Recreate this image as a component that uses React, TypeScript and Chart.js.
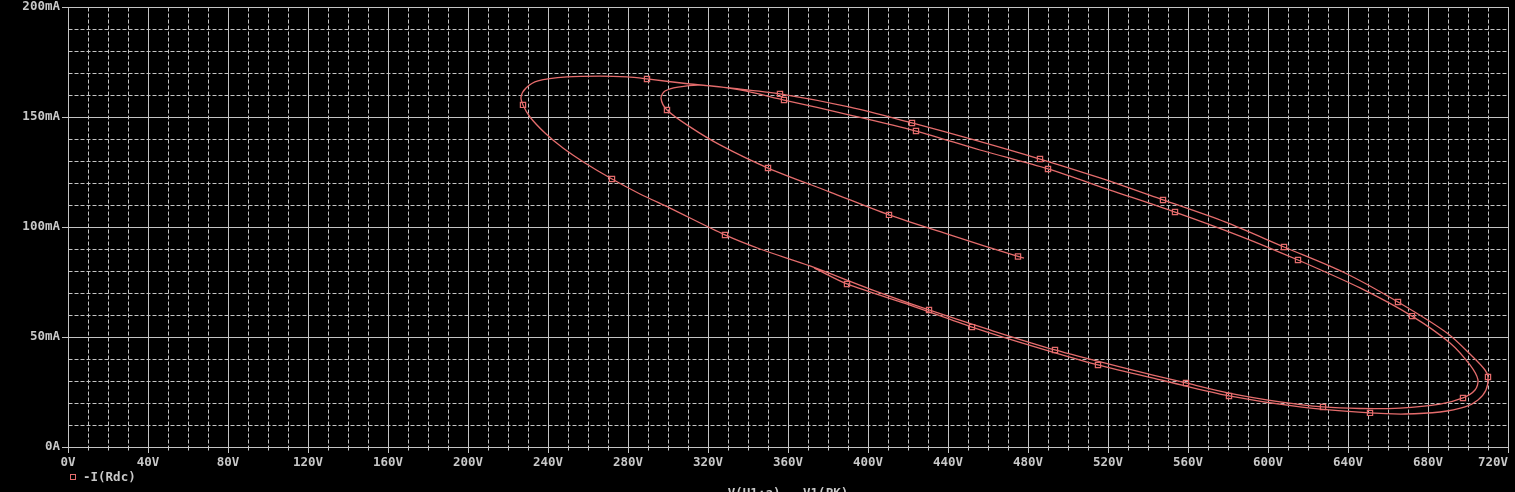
import React, { useEffect, useRef } from 'react';
import { Chart, registerables } from 'chart.js';

Chart.register(...registerables);

// Trace of -I(Rdc) (mA) against V(U1:a) - V1(PK) (V)
const traceV = [478, 475, 441, 410.5, 381, 350, 326, 311, 299.5, 296.5, 298.5, 305, 316, 336, 358, 391, 424, 456, 490, 521, 553.5, 586, 615, 646, 672, 691, 701, 705, 703.5, 697.5, 686, 666, 646, 627.5, 606, 580.5, 559, 526, 493.5, 461, 430.5, 401, 371, 346, 328.5, 301, 286, 272, 258.5, 247.5, 238.5, 231, 227.5, 226.5, 229, 235, 249.5, 266, 279.5, 289.5, 311, 331, 356, 391, 422, 453.5, 486, 516, 547.5, 578.5, 608, 638.5, 665, 689.5, 702.5, 708.5, 710, 709, 705, 698.5, 686, 668.5, 651, 616, 580.5, 548.5, 515, 483.5, 452, 421, 389.5, 373];
const traceI = [85.9, 86.6, 96.4, 105.5, 115.9, 126.8, 137.3, 145.5, 153.2, 158.6, 161.8, 163.6, 164.5, 162.3, 157.7, 150.9, 143.6, 135, 126.4, 116.8, 106.8, 95.9, 85, 72.3, 59.5, 47.3, 37.3, 30.5, 25.9, 22.3, 19.5, 17.7, 17.5, 18.2, 20.5, 24.5, 29.1, 36.4, 44.1, 53.2, 62.3, 71.8, 82.3, 90, 96.4, 108.6, 115, 121.8, 129.1, 135.9, 142.7, 150, 155.5, 159.1, 163.2, 166.4, 168.2, 168.6, 168.2, 167.3, 165, 163.2, 160.5, 154.5, 147.3, 139.5, 130.9, 122.3, 112.3, 102.3, 90.9, 79.1, 65.9, 51.8, 40.9, 35, 31.8, 25.9, 21.4, 18.2, 15.9, 15, 15.5, 18.2, 23.2, 30, 37.3, 45.5, 54.5, 64.5, 74.1, 81.4];

// Square sample markers on the trace
const markerV = [475, 410.5, 350, 299.5, 358, 424, 490, 553.5, 615, 672, 697.5, 627.5, 559, 493.5, 430.5, 328.5, 272, 227.5, 289.5, 356, 422, 486, 547.5, 608, 665, 710, 651, 580.5, 515, 452, 389.5];
const markerI = [86.6, 105.5, 126.8, 153.2, 157.7, 143.6, 126.4, 106.8, 85, 59.5, 22.3, 18.2, 29.1, 44.1, 62.3, 96.4, 121.8, 155.5, 167.3, 160.5, 147.3, 130.9, 112.3, 90.9, 65.9, 31.8, 15.5, 23.2, 37.3, 54.5, 74.1];

const xMajorStep = 40;
const xMinorStep = 10;
const yMajorStep = 50;
const yMinorStep = 10;
const xMax = 720;
const yMax = 200;

const seriesLabel = '-I(Rdc)';
const xTitle = 'V(U1:a) - V1(PK)';

const TRACE = '#e46c6c';
const GRID = '#c4c4c4';
const TEXT = '#c8c8c8';
const FONT = 'DejaVu Sans Mono';

const gridPlugin = {
  id: 'psGrid',
  beforeDatasetsDraw(chart: any) {
    const { ctx, chartArea: a, scales } = chart;
    const x = scales.x;
    const y = scales.y;
    const L = Math.round(a.left) + 0.5;
    const R = Math.round(a.right) + 0.5;
    const T = Math.round(a.top) + 0.5;
    const B = Math.round(a.bottom) + 0.5;
    ctx.save();
    ctx.lineWidth = 1;
    ctx.strokeStyle = GRID;
    // minor dashed
    ctx.setLineDash([4, 2]);
    ctx.beginPath();
    for (let v = xMinorStep; v < xMax; v += xMinorStep) {
      if (v % xMajorStep === 0) continue;
      const px = Math.round(x.getPixelForValue(v)) + 0.5;
      ctx.moveTo(px, T);
      ctx.lineTo(px, B);
    }
    for (let v = yMinorStep; v < yMax; v += yMinorStep) {
      if (v % yMajorStep === 0) continue;
      const py = Math.round(y.getPixelForValue(v)) + 0.5;
      ctx.moveTo(L, py);
      ctx.lineTo(R, py);
    }
    ctx.stroke();
    // major solid
    ctx.setLineDash([]);
    ctx.beginPath();
    for (let v = xMajorStep; v < xMax; v += xMajorStep) {
      const px = Math.round(x.getPixelForValue(v)) + 0.5;
      ctx.moveTo(px, T);
      ctx.lineTo(px, B);
    }
    for (let v = yMajorStep; v < yMax; v += yMajorStep) {
      const py = Math.round(y.getPixelForValue(v)) + 0.5;
      ctx.moveTo(L, py);
      ctx.lineTo(R, py);
    }
    ctx.stroke();
    // border
    ctx.strokeRect(L, T, R - L, B - T);
    // minor ticks under x axis
    ctx.beginPath();
    for (let v = xMinorStep; v < xMax; v += xMinorStep) {
      if (v % xMajorStep === 0) continue;
      const px = Math.round(x.getPixelForValue(v)) + 0.5;
      ctx.moveTo(px, B);
      ctx.lineTo(px, B + 3);
    }
    ctx.stroke();
    ctx.restore();
  },
  afterDraw(chart: any) {
    const { ctx, chartArea: a } = chart;
    ctx.save();
    // legend
    ctx.strokeStyle = TRACE;
    ctx.lineWidth = 1;
    ctx.strokeRect(70.5, 474.5, 5, 5);
    ctx.fillStyle = TEXT;
    ctx.font = `bold 12.5px "${FONT}"`;
    ctx.textBaseline = 'middle';
    ctx.textAlign = 'left';
    ctx.fillText(seriesLabel, 83, 477.5);
    // x-axis title (partly cut off at the bottom)
    ctx.textAlign = 'center';
    ctx.textBaseline = 'top';
    ctx.fillText(xTitle, (a.left + a.right) / 2, 487);
    ctx.restore();
  },
};

export default function App() {
  const ref = useRef<HTMLCanvasElement | null>(null);

  useEffect(() => {
    const canvas = ref.current;
    if (!canvas) return;
    const trace = traceV.map((v, i) => ({ x: v, y: traceI[i] }));
    const marks = markerV.map((v, i) => ({ x: v, y: markerI[i] }));
    const tickFont = { family: FONT, size: 12.5, weight: 'bold' as const };

    const chart = new Chart(canvas, {
      type: 'scatter',
      data: {
        datasets: [
          {
            label: seriesLabel,
            data: trace,
            showLine: true,
            borderColor: TRACE,
            borderWidth: 1.3,
            pointRadius: 0,
            tension: 0.3,
            fill: false,
          },
          {
            label: seriesLabel + ' markers',
            data: marks,
            showLine: false,
            pointStyle: 'rect',
            pointRadius: 3.7,
            borderColor: TRACE,
            backgroundColor: 'rgba(0,0,0,0)',
            borderWidth: 1.2,
          },
        ],
      },
      options: {
        responsive: false,
        animation: false,
        devicePixelRatio: 1,
        layout: { padding: { left: 0, top: 7, right: 7, bottom: 0 } },
        plugins: { legend: { display: false }, tooltip: { enabled: false } },
        scales: {
          x: {
            type: 'linear',
            min: 0,
            max: xMax,
            afterFit(scale: any) {
              scale.height = 45;
              scale.paddingLeft = 0;
              scale.paddingRight = 0;
            },
            border: { display: false },
            grid: { drawOnChartArea: false, drawTicks: true, tickLength: 6, tickColor: GRID, tickWidth: 1 },
            ticks: {
              stepSize: xMajorStep,
              autoSkip: false,
              maxRotation: 0,
              padding: 2,
              color: TEXT,
              font: tickFont,
              // the last label sits inside the right edge (padded with spaces)
              callback: (v: any) => (v === xMax ? `${v}V    ` : `${v}V`),
            },
          },
          y: {
            type: 'linear',
            min: 0,
            max: yMax,
            afterFit(scale: any) {
              scale.width = 68;
              scale.paddingTop = 0;
              scale.paddingBottom = 0;
            },
            border: { display: false },
            grid: { drawOnChartArea: false, drawTicks: true, tickLength: 6, tickColor: GRID, tickWidth: 1 },
            ticks: {
              stepSize: yMajorStep,
              padding: 2,
              color: TEXT,
              font: tickFont,
              callback: (v: any) => (v === 0 ? '0A' : `${v}mA`),
            },
          },
        },
      },
      plugins: [gridPlugin],
    });
    return () => chart.destroy();
  }, []);

  return (
    <div style={{ position: 'fixed', left: 0, top: 0, width: 1515, height: 492, background: '#000' }}>
      <canvas ref={ref} width={1515} height={492} style={{ display: 'block', width: 1515, height: 492 }} />
    </div>
  );
}
